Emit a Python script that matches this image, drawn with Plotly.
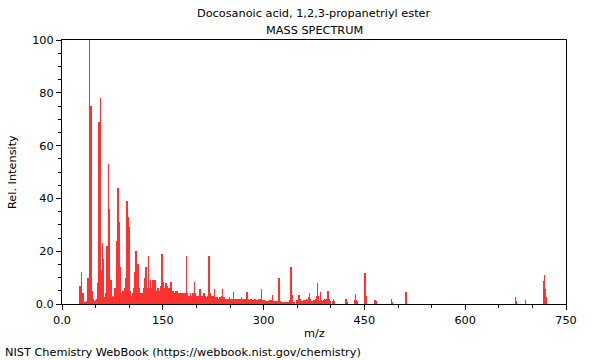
import plotly.graph_objects as go

# m/z values and relative intensities
mz_a = [26, 27, 28, 29, 30, 31, 32, 33, 35, 36, 37, 38, 39, 40, 41, 42, 43, 44, 45, 46,
        47, 48, 49, 50, 51, 52, 53, 54, 55, 56, 57, 58, 59, 60, 61, 62, 63, 64, 65, 66,
        67, 68, 69, 70, 71, 72, 73, 74, 75, 76, 77, 78, 79, 80, 81, 82, 83, 84, 85, 86,
        87, 88, 89, 90, 91, 92, 93, 94, 95, 96, 97, 98, 99, 100, 101, 102, 103, 104, 105, 106,
        107, 108, 109, 110, 111, 112, 113, 114, 115, 116, 117, 118, 119, 120, 121, 122, 123, 124, 125, 126,
        127, 128, 129, 130]
int_a = [1.2, 7, 3, 12, 1.5, 4, 0.8, 0.5, 0.3, 0.5, 1, 2, 10, 3.5, 100, 18, 75, 12, 5, 1,
         2, 0.8, 1.2, 1.5, 2, 1.5, 8, 22, 69, 22, 78, 13, 6, 23, 17, 2, 2.5, 2, 4, 3,
         22, 14, 53, 10, 36, 5, 9, 5, 3, 1.5, 2.5, 2, 6, 4, 24, 12, 44, 10, 31, 5,
         14, 4, 3, 2, 5, 3, 6, 5, 10, 8, 39, 33, 6, 29, 5, 3, 3, 3, 4, 3,
         6, 4, 12, 20, 10, 8, 15, 5, 6, 4, 4, 3, 4, 3, 6, 4, 10, 6, 14, 5,
         6, 4, 18, 5]

mz_b = [131, 132, 133, 134, 135, 136, 137, 138, 139, 140, 141, 142, 143, 144, 145, 146, 147, 148, 149, 150,
        151, 152, 153, 154, 155, 156, 157, 158, 159, 160, 161, 162, 163, 164, 165, 166, 167, 168, 169, 170,
        171, 172, 173, 174, 175, 176, 177, 178, 179, 180, 181, 182, 183, 184, 185, 186, 187, 188, 189, 190,
        191, 192, 193, 194, 195, 196, 197, 198, 199, 200]
int_b = [6, 9, 5, 6, 9, 5, 9, 7, 9, 4, 5, 4, 6, 4, 5, 4, 7, 6, 19, 5,
         8.5, 4, 6, 4, 8, 4, 7, 4, 6, 3, 5, 8.5, 5, 3, 5, 3, 4, 3, 5, 3,
         5, 3, 4, 3, 4, 2, 4, 3, 4, 2, 4, 2, 4, 3, 18, 4, 4, 2, 3, 2,
         4, 2, 3, 2, 4, 3, 8.5, 3, 4, 2]

mz_c = [201, 202, 203, 204, 205, 206, 207, 208, 209, 210, 211, 212, 213, 214, 215, 216, 217, 218, 219, 220,
        221, 222, 223, 224, 225, 226, 227, 228, 229, 230, 231, 232, 233, 234, 235, 236, 237, 238, 239, 240,
        241, 242, 243, 244, 245, 246, 247, 248, 249, 250, 251, 252, 253, 254, 255, 256, 257, 258, 259, 260]
int_c = [3, 2, 3, 2, 5.6, 2, 3, 2, 3, 2, 4, 2, 3, 2, 2.5, 1.5, 3, 4, 18, 4,
         3, 2, 3, 2, 3, 2, 5.7, 2, 2.5, 1.5, 2.5, 1.5, 2, 1.5, 2.5, 1.5, 3, 2, 5.7, 2,
         2.5, 1.5, 2, 1.2, 2, 1.2, 2, 1.2, 2.5, 1.5, 2, 1.2, 2, 1.2, 4.5, 1.5, 2, 1.2, 2, 1.2]

mz_d = [261, 262, 263, 264, 265, 266, 267, 268, 269, 270, 271, 272, 273, 274, 275, 276, 277, 278, 279, 280,
        281, 282, 283, 284, 285, 286, 287, 288, 289, 290, 291, 292, 293, 294, 295, 296, 297, 298, 299, 300,
        301, 302, 303, 304, 305, 306, 307, 308, 309, 310, 311, 312, 313, 314, 315, 316, 317, 318, 319, 320,
        321, 322, 323, 324, 325, 326, 327, 328, 329, 330, 331, 332, 333, 334, 335, 336, 337, 338, 339, 340,
        341, 342, 343]
int_d = [1.8, 1.2, 2, 1, 1.8, 1, 2.5, 1.2, 2, 1, 2, 1, 1.8, 1, 4.4, 1.2, 1.8, 1, 1.5, 1,
         2, 1, 1.5, 1, 1.5, 1, 2, 1, 1.5, 1, 1.5, 1, 2, 1, 2, 1, 5.5, 1.5, 1.5, 1,
         1.5, 1, 1.2, 0.8, 1.2, 0.8, 1.2, 0.8, 1.5, 0.8, 1.5, 1, 3.6, 1, 1.2, 0.8, 1, 0.6, 1, 0.6,
         1.2, 2, 10, 3, 1, 0.6, 0.8, 0.5, 0.8, 0.5, 0.8, 0.5, 0.6, 0.4, 0.6, 0.3, 0.5, 0.4, 1.5, 3,
         14, 3.4, 0.8]

mz_e = [344, 345, 349, 350, 351, 352, 353, 354, 355, 356, 357, 359, 360, 361, 362, 363, 364, 365, 366, 367,
        368, 369, 370, 371, 372, 374, 375, 376, 377, 378, 379, 380, 381, 382, 383, 384, 385, 386, 387, 388,
        389, 390, 391, 392, 393, 394, 395, 396, 397, 398, 399, 403, 404, 405, 422, 423, 424, 436, 437, 438,
        439, 450, 451, 452, 453, 465, 466, 467, 490, 491, 511, 512, 513, 675, 676, 690, 717, 718, 719, 720]
int_e = [0.5, 0.8, 1, 1.5, 1.2, 1.5, 3.4, 1.5, 2, 1, 1, 1, 1.5, 1.2, 1.5, 1.2, 2, 1, 1.5, 2.5,
         4, 2, 1.5, 1, 1, 1, 1.5, 1, 1.5, 2, 3, 8, 3, 1.5, 1.2, 1, 4.5, 1.5, 1.2, 1,
         1.5, 1, 2, 1.5, 2, 1.5, 3, 4.8, 2, 1, 1, 1, 2, 1, 1, 2, 0.8, 1.5, 3.8, 1.5,
         1, 3, 11.9, 3, 1, 1.2, 1.5, 1, 1.9, 0.8, 1.5, 4.6, 1.5, 2.5, 1, 1.5, 8.7, 11, 5.6, 2.5]

x_ticks = [0, 150, 300, 450, 600, 750]
x_tick_text = ["0.0", "150", "300", "450", "600", "750"]
y_ticks = [0, 20, 40, 60, 80, 100]
y_tick_text = ["0.0", "20", "40", "60", "80", "100"]

mz = mz_a + mz_b + mz_c + mz_d + mz_e
intensity = int_a + int_b + int_c + int_d + int_e

FONT = "DejaVu Sans"

fig = go.Figure()
fig.add_trace(go.Bar(
    x=mz, y=intensity, width=0.8,
    marker=dict(color="rgb(255,50,50)", line=dict(width=0)),
    hoverinfo="skip",
))

axis_common = dict(
    showline=True, linecolor="black", linewidth=1, mirror=True,
    ticks="outside", ticklen=5, tickcolor="black", tickwidth=1,
    showgrid=False, zeroline=False, automargin=False,
    tickfont=dict(family=FONT, size=11.3, color="black"),
)

fig.update_xaxes(
    range=[0, 750], tickmode="array", tickvals=x_ticks, ticktext=x_tick_text,
    minor=dict(dtick=50, tick0=0, ticks="outside", ticklen=3, tickcolor="black"),
    **axis_common,
)
fig.update_yaxes(
    range=[0, 100], tickmode="array", tickvals=y_ticks, ticktext=y_tick_text,
    minor=dict(dtick=5, tick0=0, ticks="outside", ticklen=3, tickcolor="black"),
    **axis_common,
)

fig.update_layout(
    width=600, height=360,
    margin=dict(l=62, r=34, t=40, b=56),
    paper_bgcolor="white", plot_bgcolor="white",
    bargap=0, showlegend=False, hovermode=False,
    font=dict(family=FONT, size=11.3, color="black"),
    annotations=[
        dict(text="Docosanoic acid, 1,2,3-propanetriyl ester", xref="paper", yref="paper",
             x=0.5, y=1, yshift=27, xanchor="center", yanchor="middle", showarrow=False,
             font=dict(family=FONT, size=11.3, color="black")),
        dict(text="MASS SPECTRUM", xref="paper", yref="paper",
             x=0.5, y=1, yshift=10, xanchor="center", yanchor="middle", showarrow=False,
             font=dict(family=FONT, size=11.3, color="black")),
        dict(text="m/z", xref="paper", yref="paper",
             x=0.5, y=0, yshift=-29, xanchor="center", yanchor="middle", showarrow=False,
             font=dict(family=FONT, size=11.3, color="black")),
        dict(text="Rel. Intensity", xref="paper", yref="paper", textangle=-90,
             x=0, y=0.5, xshift=-50, xanchor="center", yanchor="middle", showarrow=False,
             font=dict(family=FONT, size=11.3, color="black")),
        dict(text="NIST Chemistry WebBook (https://webbook.nist.gov/chemistry)",
             xref="paper", yref="paper", x=0, y=0, xshift=-59, yshift=-48,
             xanchor="left", yanchor="middle", showarrow=False,
             font=dict(family=FONT, size=11.3, color="black")),
    ],
)

# remove the default 8px page margin so the figure sits at the window's top-left corner
fig.write_html("out.html", config={"displayModeBar": False},
               post_script="document.body.style.margin='0';")
